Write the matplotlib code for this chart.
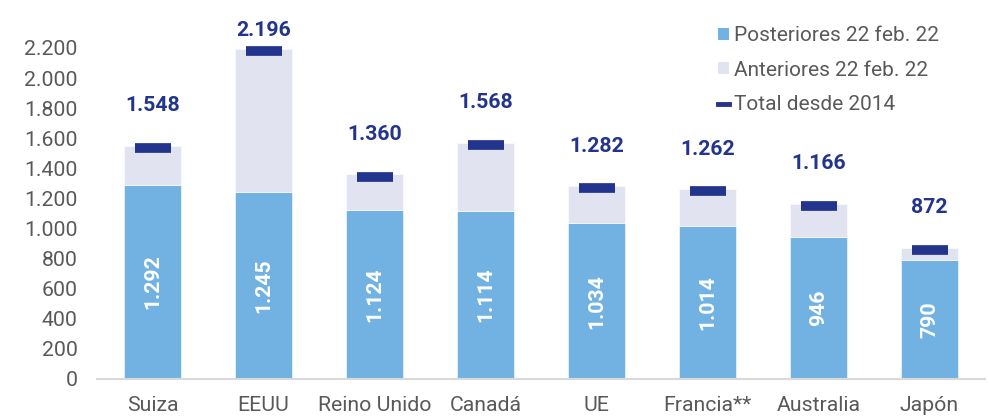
import matplotlib
matplotlib.use("Agg")
import matplotlib.pyplot as plt
from matplotlib.patches import Patch
from matplotlib.lines import Line2D
import numpy as np

plt.rcParams['font.family'] = ['Roboto', 'DejaVu Sans']

categories = ["Suiza", "EEUU", "Reino Unido", "Canadá", "UE", "Francia**", "Australia", "Japón"]
posteriores = [1292, 1245, 1124, 1114, 1034, 1014, 946, 790]
totales = [1548, 2196, 1360, 1568, 1282, 1262, 1166, 872]
yticks = [0, 200, 400, 600, 800, 1000, 1200, 1400, 1600, 1800, 2000, 2200]

C_POST = "#71B2E2"
C_ANT = "#E1E4F0"
C_TOT = "#22348C"
C_TXT = "#595959"

def fmt(v):
    return f"{v:,}".replace(",", ".")

fig = plt.figure(figsize=(9.89, 4.18), dpi=100)
W, H = 989, 418
ax = fig.add_axes([97 / W, (H - 379) / H, (985 - 97) / W, (379 - 17.8) / H])

x = np.arange(len(categories))
post = np.array(posteriores)
tot = np.array(totales)
ant = tot - post
bw = 0.52

ax.bar(x, post, width=bw, color=C_POST, edgecolor="white", linewidth=0.4, zorder=2)
ax.bar(x, ant, width=bw, bottom=post, color=C_ANT, edgecolor="white", linewidth=0.4, zorder=2)
ax.plot(x, tot - 15, ls="none", marker="_", ms=26, mew=7, color=C_TOT, zorder=3)

ax.set_xlim(-0.5, len(categories) - 0.5)
ax.set_ylim(0, 2400)

for xi, p, t in zip(x, post, tot):
    ax.text(xi, p / 2, fmt(p), rotation=90, ha="center", va="center",
            color="white", fontsize=15.3, fontweight="bold", zorder=4)
    ly = t + 266
    if ly > 2400:
        ly = t + 120
    ax.text(xi, ly, fmt(t), ha="center", va="center", color=C_TOT,
            fontsize=15.3, fontweight="bold", zorder=4)

ax.set_yticks(yticks)
ax.set_yticklabels([fmt(v) for v in yticks])
ax.set_xticks(x)
ax.set_xticklabels(categories)
ax.tick_params(axis="both", length=0, labelsize=15.3, colors=C_TXT)
ax.tick_params(axis="y", pad=14)
ax.tick_params(axis="x", pad=12)
for s in ["top", "right", "left"]:
    ax.spines[s].set_visible(False)
ax.spines["bottom"].set_color("#D9D9D9")
ax.spines["bottom"].set_linewidth(1.5)

handles = [
    Patch(facecolor=C_POST, edgecolor="none", label="Posteriores 22 feb. 22"),
    Patch(facecolor=C_ANT, edgecolor="none", label="Anteriores 22 feb. 22"),
    Line2D([0], [0], color=C_TOT, lw=3.5, label="Total desde 2014"),
]
leg = fig.legend(handles=handles, loc="upper left", bbox_to_anchor=(710 / W, 1 - 18 / H),
                 frameon=False, fontsize=15, handlelength=0.5, handleheight=0.5,
                 handletextpad=0.25, labelspacing=0.74, borderaxespad=0)
for t in leg.get_texts():
    t.set_color(C_TXT)

fig.savefig("out.png", dpi=100)
